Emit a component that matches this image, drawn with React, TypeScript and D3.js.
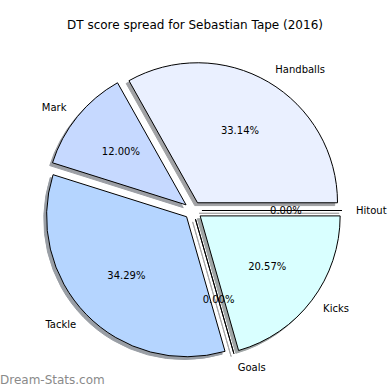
import React from "react";
import * as d3 from "d3";

const categories = ["Hitout", "Handballs", "Mark", "Tackle", "Goals", "Kicks"];
const points = [0, 58, 21, 60, 0, 36];
const colors = ["#ffffff", "#eaf0ff", "#c6d9ff", "#b5d5ff", "#ffffff", "#d9ffff"];
const title = "DT score spread for Sebastian Tape (2016)";
const watermark = "Dream-Stats.com";

const W = 390;
const H = 390;
const cx = 193;
const cy = 210.5;
const R = 140;
const explode = 0.064;
const font = "DejaVu Sans, sans-serif";

export default function App() {
  const total = d3.sum(points);
  const pie = d3
    .pie<number>()
    .sort(null)
    .value((d) => d)
    .startAngle(Math.PI / 2)
    .endAngle(Math.PI / 2 - 2 * Math.PI);
  const arcs = pie(points);
  const arc = d3.arc<d3.PieArcDatum<number>>().innerRadius(0).outerRadius(R);
  const d = explode * R;
  const sh = 0.02 * R;

  const items = arcs.map((a, i) => {
    const mid = (a.startAngle + a.endAngle) / 2;
    const ux = Math.sin(mid);
    const uy = -Math.cos(mid);
    const ox = cx + d * ux;
    const oy = cy + d * uy;
    const c = d3.rgb(colors[i]);
    const shadow = d3.rgb(c.r * 0.3, c.g * 0.3, c.b * 0.3).toString();
    return {
      a,
      i,
      ox,
      oy,
      ux,
      uy,
      path: arc(a) || "",
      shadow,
      pct: ((points[i] / total) * 100).toFixed(2) + "%",
    };
  });

  return (
    <svg width={W} height={H} style={{ display: "block", position: "absolute", left: 0, top: 0 }}>
      <rect width={W} height={H} fill="#ffffff" />
      <text x={195} y={25} textAnchor="middle" dominantBaseline="central" fontFamily={font} fontSize={12} fill="#000">
        {title}
      </text>
      {items.map((it) => (
        <path
          key={"s" + it.i}
          d={it.path}
          transform={`translate(${it.ox - sh},${it.oy + sh})`}
          fill={it.shadow}
          stroke={it.shadow}
          strokeWidth={1}
          opacity={0.5}
        />
      ))}
      {items.map((it) => (
        <path
          key={"w" + it.i}
          d={it.path}
          transform={`translate(${it.ox},${it.oy})`}
          fill={colors[it.i]}
          stroke="#000"
          strokeWidth={1}
        />
      ))}
      {items.map((it) => {
        const lx = it.ox + 1.1 * R * it.ux;
        const ly = it.oy + 1.1 * R * it.uy;
        return (
          <text
            key={"l" + it.i}
            x={lx}
            y={ly}
            textAnchor={it.ux > 0 ? "start" : "end"}
            dominantBaseline="central"
            fontFamily={font}
            fontSize={10}
            fill="#000"
          >
            {categories[it.i]}
          </text>
        );
      })}
      {items.map((it) => (
        <text
          key={"p" + it.i}
          x={it.ox + 0.6 * R * it.ux}
          y={it.oy + 0.6 * R * it.uy}
          textAnchor="middle"
          dominantBaseline="central"
          fontFamily={font}
          fontSize={10}
          fill="#000"
        >
          {it.pct}
        </text>
      ))}
      <text x={0} y={380} dominantBaseline="central" fontFamily={font} fontSize={12} fill="#8a8a8a">
        {watermark}
      </text>
    </svg>
  );
}
